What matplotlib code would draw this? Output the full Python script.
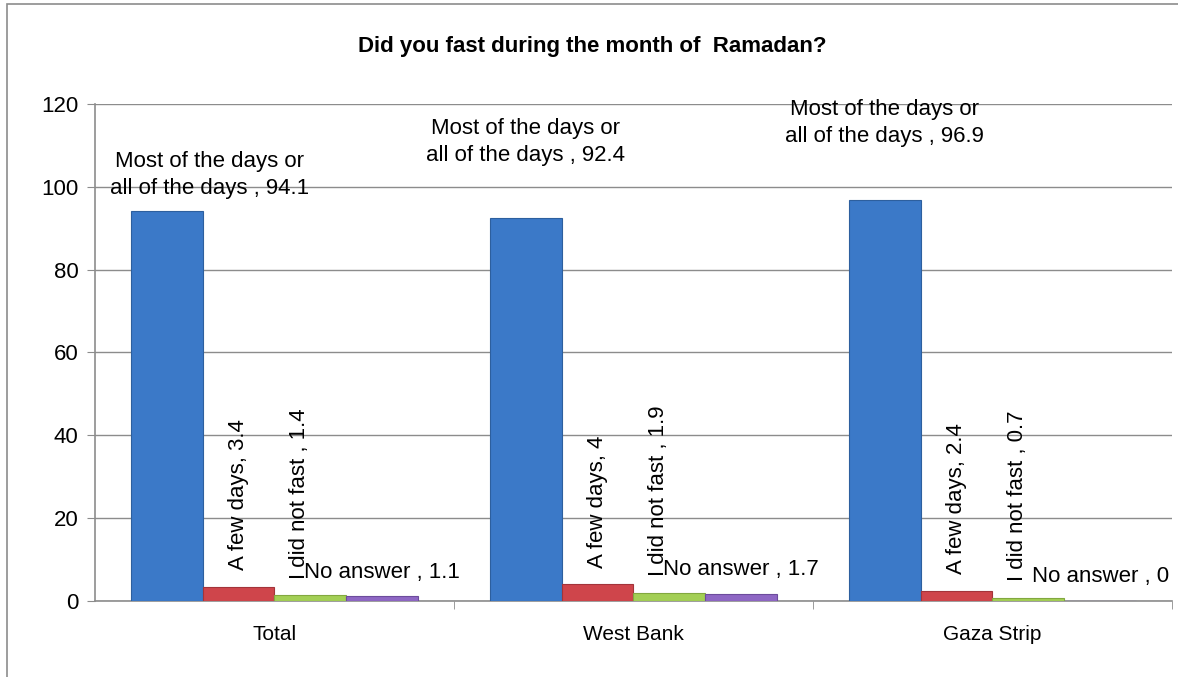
import matplotlib.pyplot as plt
import numpy as np
from matplotlib.patches import Rectangle

categories = ['Total', 'West Bank', 'Gaza Strip']
series_names = ['Most of the days or\nall of the days', 'A few days', 'I did not fast', 'No answer']
most_days = [94.1, 92.4, 96.9]
few_days = [3.4, 4, 2.4]
did_not_fast = [1.4, 1.9, 0.7]
no_answer = [1.1, 1.7, 0]

colors = ['#3b79c8', '#cf454b', '#a3cf55', '#8e67c4']
edges = ['#2d5f9e', '#a3343a', '#82a83f', '#6c4c9c']

plt.rcParams['font.family'] = ['Liberation Sans', 'DejaVu Sans']

fig = plt.figure(figsize=(11.78, 6.77), dpi=100)
ax = fig.add_axes([0.0806, 0.1123, 0.9143, 0.7341])

# thin frame round the whole chart area
fig.patches.append(Rectangle((0.006, -0.01), 1.1, 1.004, transform=fig.transFigure,
                             fill=False, edgecolor='#8c8c8c', lw=1.2))

x = np.arange(len(categories))
w = 0.2
fs = 16
values = [most_days, few_days, did_not_fast, no_answer]
for i, vals in enumerate(values):
    bars = ax.bar(x + (i - 1.5) * w, vals, w, color=colors[i], edgecolor=edges[i],
                  linewidth=0.8, zorder=3)
    for j, b in enumerate(bars):
        v = vals[j]
        cx = b.get_x() + b.get_width() / 2
        if i == 0:
            dx = [31, 0, 0][j]
            dy = [9, 38, 38][j]
            ax.annotate(f'{series_names[0]} , {v:g}', (cx, v), xytext=(dx, dy),
                        textcoords='offset points', ha='center', va='bottom',
                        fontsize=fs, linespacing=1.35)
        elif i == 3:
            ax.annotate(f'{series_names[3]} , {v:g}', (cx, v), xytext=(0, 10),
                        textcoords='offset points', ha='center', va='bottom',
                        fontsize=fs)
        else:
            sep = ', ' if i == 1 else ' , '
            dx = 0 if i == 1 else -8
            ax.annotate(f'{series_names[i]}{sep}{v:g}', (cx, v), xytext=(dx, 12),
                        textcoords='offset points', ha='center', va='bottom',
                        rotation=90, fontsize=fs)

ax.set_xlim(-0.5, 2.5)
ax.set_ylim(0, 120)
ax.set_yticks(range(0, 121, 20))
ax.set_xticks(x)
ax.set_xticklabels(categories, fontsize=15)
ax.set_xticks([0.5, 1.5, 2.5], minor=True)
ax.tick_params(axis='x', which='major', length=0, pad=17)
ax.tick_params(axis='x', which='minor', length=6, color='#8c8c8c')
ax.tick_params(axis='y', length=6, color='#8c8c8c', labelsize=16, pad=6)
ax.grid(axis='y', color='#8c8c8c', lw=1, zorder=0)
for s in ['top', 'right']:
    ax.spines[s].set_visible(False)
for s in ['left', 'bottom']:
    ax.spines[s].set_color('#8c8c8c')
    ax.spines[s].set_linewidth(1.2)

fig.text(0.503, 0.931, 'Did you fast during the month of  Ramadan?', ha='center',
         va='center', fontsize=16, fontweight='bold')

fig.savefig('out.png', dpi=100)
